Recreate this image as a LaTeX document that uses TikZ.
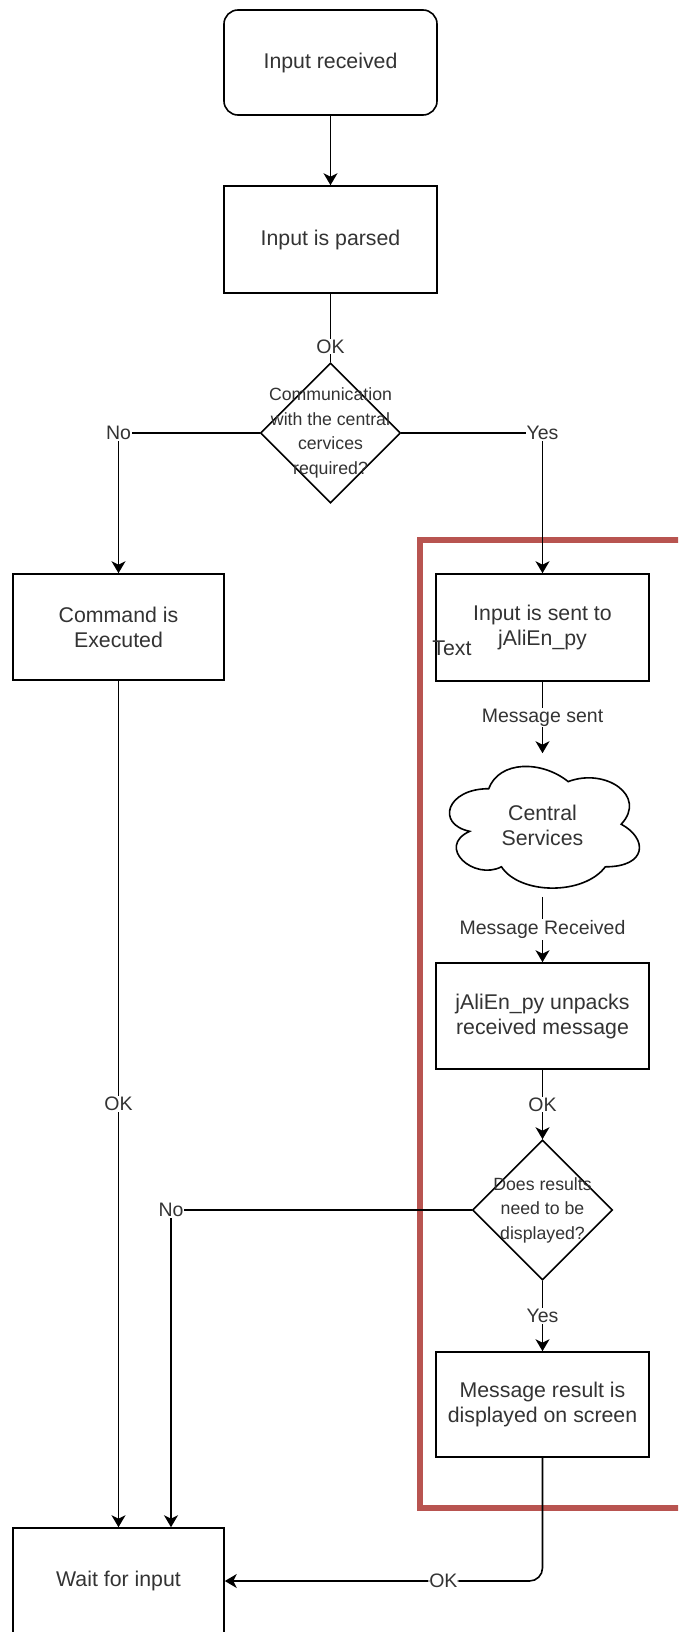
\documentclass[tikz,border=0pt]{standalone}
\usepackage{fontspec}
\setmainfont{Liberation Sans}
\usetikzlibrary{shapes.geometric,arrows.meta,calc}
\definecolor{redbox}{HTML}{B85450}
\definecolor{txt}{HTML}{333333}
\begin{document}
\begin{tikzpicture}[x=1pt,y=-1pt,
  line width=1.6pt,
  box/.style={draw=black, fill=white, rectangle, minimum width=213pt, minimum height=107pt, inner sep=0pt, align=center, text=txt, font=\fontsize{21.3}{25}\selectfont},
  rbox/.style={box, rounded corners=14pt},
  dec/.style={draw=black, fill=white, diamond, minimum width=140pt, minimum height=140pt, inner sep=0pt},
  dtext/.style={align=center, text=txt, inner sep=0pt, font=\fontsize{17.7}{24.5}\selectfont},
  lbl/.style={fill=white, text=txt, inner sep=1pt, font=\fontsize{19.5}{23}\selectfont},
  arr/.style={-{Stealth[length=12pt,width=14pt,inset=3.5pt]}},
  cloudtxt/.style={rectangle, minimum width=212pt, minimum height=142pt, inner sep=0pt, align=center, text=txt, font=\fontsize{21.3}{25}\selectfont},
]
\useasboundingbox (0,0) rectangle (678,1632);
\clip (0,0) rectangle (678,1632);

% red frame
\draw[redbox, line width=6pt] (420,540) rectangle (684,1508);

% nodes
\node[rbox, minimum height=105pt] (recv) at (330.5,62.5) {Input received};
\node[box] (parsed) at (330.5,239.5) {Input is parsed};
\node[dec, label={[dtext]center:{Communication\\with the central\\cervices\\required?}}] (d1) at (330.5,433) {};
\node[box, minimum width=211pt, minimum height=106pt] (cmd) at (118.5,627) {Command is\\Executed};
\node[box] (sent) at (542.5,627.5) {Input is sent to\\jAliEn\_py};
\node[cloudtxt] (cl) at (542.5,825) {Central\\Services};
\begin{scope}[shift={(cl.north west)}, x=212pt, y=-142pt]
  \draw[fill=white] (0.25,0.25)
    .. controls (0.05,0.25) and (0,0.5) .. (0.16,0.55)
    .. controls (0,0.66) and (0.18,0.9) .. (0.31,0.8)
    .. controls (0.4,1) and (0.7,1) .. (0.8,0.8)
    .. controls (1,0.8) and (1,0.6) .. (0.875,0.5)
    .. controls (1,0.3) and (0.8,0.1) .. (0.625,0.2)
    .. controls (0.5,0.05) and (0.3,0.05) .. (0.25,0.25) -- cycle;
\end{scope}
\node[cloudtxt] (cltext) at (cl.center) {Central\\Services};
\node[box, minimum height=106pt] (unpack) at (542.5,1016) {jAliEn\_py unpacks\\received message};
\node[dec, label={[dtext]center:{Does results\\need to be\\displayed?}}] (d2) at (542.5,1210) {};
\node[box, minimum height=105pt] (result) at (542.5,1404.5) {Message result is\\displayed on screen};
\node[box, minimum width=211pt, minimum height=106pt] (wait) at (118.5,1581) {Wait for input};
\node[text=txt, inner sep=0pt, font=\fontsize{21.3}{25}\selectfont] (textlbl) at (452,648) {Text};

% connectors
\draw[arr] (recv.south) -- (parsed.north);
\draw (parsed.south) -- node[lbl, pos=0.77] {OK} (d1.north);
\draw[arr] (d1.west) -| node[lbl, pos=0.5] {No} (cmd.north);
\draw[arr] (d1.east) -| node[lbl, pos=0.5] {Yes} (sent.north);
\draw[arr] (sent.south) -- node[lbl] {Message sent} (cl.north);
\draw[arr] (cl.south) -- node[lbl] {Message Received} (unpack.north);
\draw[arr] (unpack.south) -- node[lbl] {OK} (d2.north);
\draw[arr] (d2.south) -- node[lbl] {Yes} (result.north);
\draw[arr] (d2.west) -| node[lbl, pos=0.5] {No} ($(wait.north)+(52.5,0)$);
\draw[arr] (cmd.south) -- node[lbl] {OK} (wait.north);
\draw[arr, rounded corners=13pt] (result.south) |- node[lbl, pos=0.656] {OK} (wait.east);
\end{tikzpicture}
\end{document}
